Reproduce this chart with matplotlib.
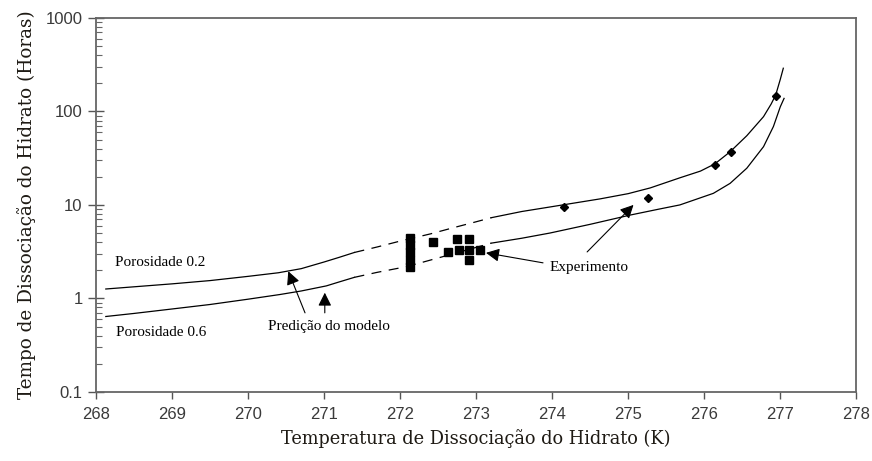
import matplotlib
matplotlib.use("Agg")
import matplotlib.pyplot as plt
import numpy as np
from matplotlib.ticker import LogLocator, FixedLocator, FixedFormatter, NullFormatter

# Model curve, porosity 0.2 (temperature K, dissociation time h)
por02_temp = [268.13, 268.5, 269.0, 269.5, 270.0, 270.4, 270.7, 271.0,
              271.2, 271.4, 271.7, 272.0, 272.4, 272.7, 273.0, 273.2,
              273.6, 273.97, 274.3, 274.63, 275.0, 275.29, 275.68, 275.95,
              276.14, 276.34, 276.56, 276.78, 276.88, 276.94, 277.0, 277.04]
por02_time = [1.26, 1.33, 1.43, 1.55, 1.72, 1.88, 2.08, 2.45,
              2.75, 3.1, 3.55, 4.1, 4.9, 5.7, 6.6, 7.3,
              8.5, 9.5, 10.5, 11.6, 13.2, 15.2, 19.5, 23.0,
              27.5, 37.0, 55.0, 88.0, 120.0, 150.0, 220.0, 290.0]

# Model curve, porosity 0.6
por06_temp = [268.13, 268.5, 269.0, 269.5, 270.0, 270.42, 270.7, 271.03,
              271.2, 271.4, 271.7, 272.09, 272.6, 273.2, 273.6, 273.97,
              274.5, 275.03, 275.4, 275.68, 276.12, 276.34, 276.56, 276.78,
              276.91, 277.0, 277.05]
por06_time = [0.64, 0.69, 0.77, 0.86, 0.98, 1.1, 1.2, 1.36,
              1.5, 1.68, 1.9, 2.19, 2.85, 3.9, 4.4, 5.0,
              6.2, 7.8, 9.0, 10.0, 13.3, 17.0, 24.7, 42.0,
              69.0, 112.0, 138.0]

# Experimental points (squares)
exp_sq_temp = [272.13, 272.13, 272.13, 272.13, 272.13, 272.43, 272.63,
               272.75, 272.91, 272.77, 272.91, 273.05, 272.91]
exp_sq_time = [4.4, 3.7, 3.1, 2.6, 2.15, 4.0, 3.1,
               4.3, 4.3, 3.3, 3.3, 3.3, 2.6]

# Experimental points (diamonds)
exp_dm_temp = [274.15, 275.26, 276.14, 276.35, 276.94]
exp_dm_time = [9.6, 12.0, 27.0, 37.0, 147.0]

SOLID_END = 271.4
SOLID_START = 273.2


def plot_curve(ax, temp, time):
    temp = np.asarray(temp)
    time = np.asarray(time)
    left = temp <= SOLID_END
    mid = (temp >= SOLID_END) & (temp <= SOLID_START)
    right = temp >= SOLID_START
    ax.plot(temp[left], time[left], color="black", lw=0.9)
    ax.plot(temp[mid], time[mid], color="black", lw=0.9, linestyle=(0, (8, 6)))
    ax.plot(temp[right], time[right], color="black", lw=0.9)


fig = plt.figure(figsize=(8.72, 4.61), dpi=100)
ax = fig.add_axes([0.110, 0.150, 0.872, 0.811])

plot_curve(ax, por02_temp, por02_time)
plot_curve(ax, por06_temp, por06_time)

ax.plot(exp_sq_temp, exp_sq_time, "s", color="black", markersize=6, zorder=3)
ax.plot(exp_dm_temp, exp_dm_time, "D", color="black", markersize=4.5, zorder=3)

ax.set_yscale("log")
ax.set_xlim(268, 278)
ax.set_ylim(0.1, 1000)

ax.xaxis.set_major_locator(FixedLocator(np.arange(268, 279)))
ax.yaxis.set_major_locator(FixedLocator([0.1, 1, 10, 100, 1000]))
ax.yaxis.set_major_formatter(FixedFormatter(["0.1", "1", "10", "100", "1000"]))
ax.yaxis.set_minor_locator(LogLocator(base=10, subs=np.arange(2, 10)))
ax.yaxis.set_minor_formatter(NullFormatter())

for lbl in ax.get_xticklabels() + ax.get_yticklabels():
    lbl.set_fontfamily(["Liberation Sans", "DejaVu Sans"])
    lbl.set_fontsize(12)
    lbl.set_color("#3a3a3a")

ax.tick_params(axis="x", which="major", direction="out", length=5,
               width=1.0, color="#555555", pad=6)
ax.tick_params(axis="y", which="major", direction="inout", length=11,
               width=1.0, color="#555555", pad=4)
ax.tick_params(axis="y", which="minor", direction="in", length=4,
               width=0.8, color="#666666")

for sp in ax.spines.values():
    sp.set_color("#666666")
    sp.set_linewidth(1.3)

serif = ["DejaVu Serif"]
ax.set_xlabel("Temperatura de Dissociação do Hidrato (K)", family=serif,
              fontsize=12.8, color="#1e1a14", labelpad=5)
ax.set_ylabel("Tempo de Dissociação do Hidrato (Horas)", family=serif,
              fontsize=13.2, color="#1e1a14", labelpad=7)

note_font = dict(family=["Liberation Serif"], fontsize=11, color="black",
                 va="center", ha="left")
ax.text(268.25, 2.41, "Porosidade 0.2", **note_font)
ax.text(268.26, 0.43, "Porosidade 0.6", **note_font)
ax.text(270.26, 0.50, "Predição do modelo", **note_font)
ax.text(273.97, 2.12, "Experimento", **note_font)

arrow = dict(arrowstyle="-|>", color="black", lw=0.8, mutation_scale=20,
             shrinkA=0, shrinkB=0)
ax.annotate("", xy=(270.53, 1.95), xytext=(270.75, 0.70), arrowprops=arrow)
ax.annotate("", xy=(271.01, 1.15), xytext=(271.01, 0.70), arrowprops=arrow)
ax.annotate("", xy=(273.13, 3.07), xytext=(273.88, 2.40), arrowprops=arrow)
ax.annotate("", xy=(275.07, 10.0), xytext=(274.46, 3.14), arrowprops=arrow)

fig.savefig("out.png", dpi=100)
